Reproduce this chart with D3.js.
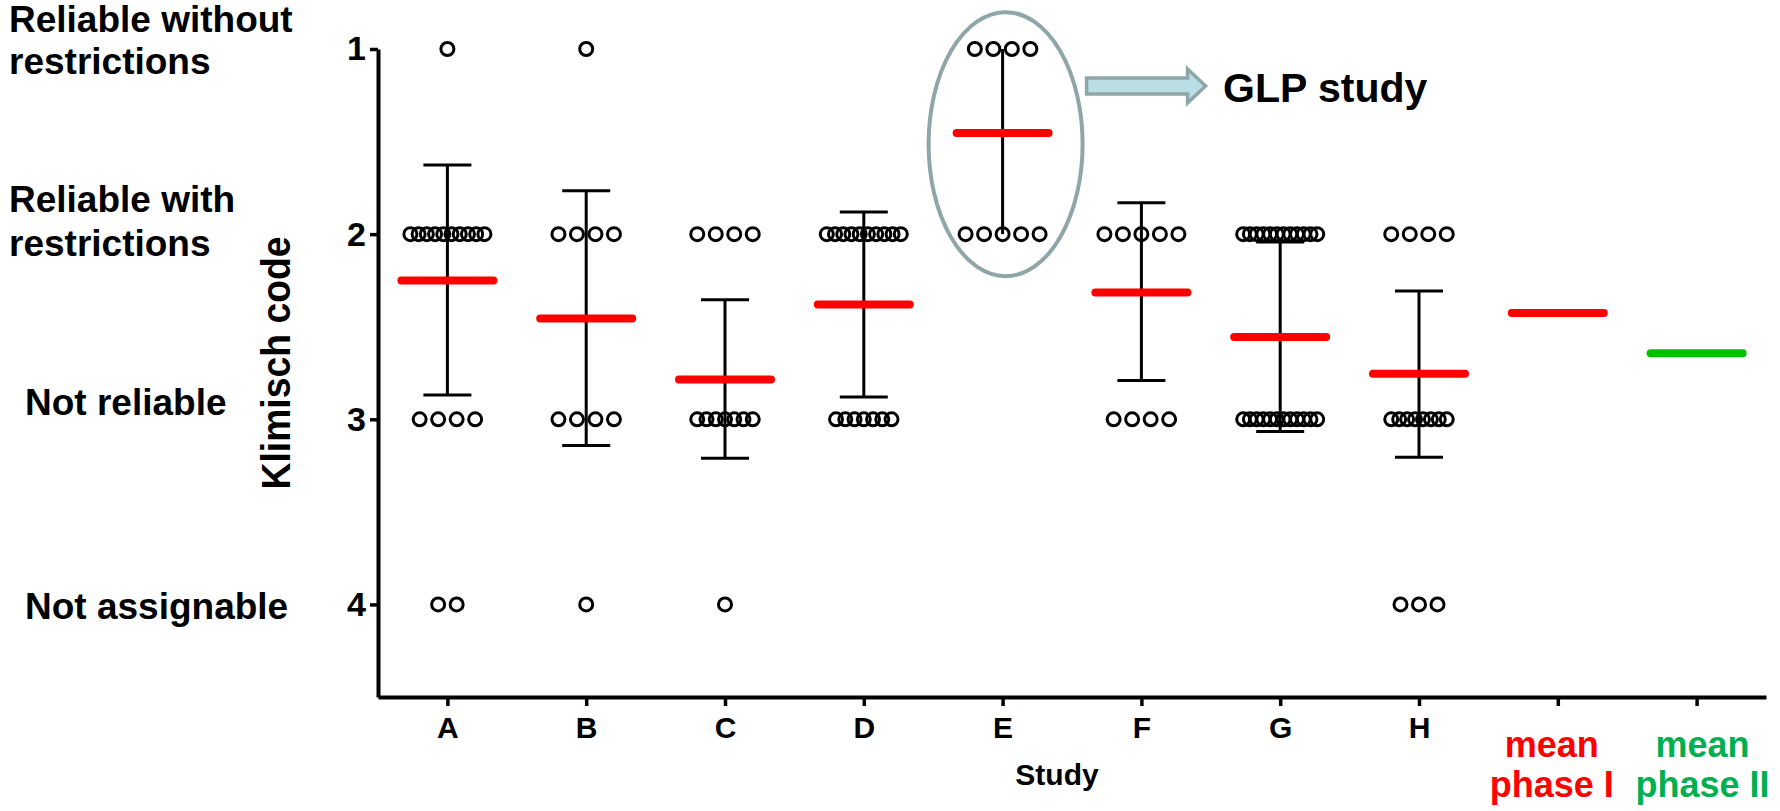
<!DOCTYPE html>
<html>
<head>
<meta charset="utf-8">
<script src="https://cdn.jsdelivr.net/npm/d3@7"></script>
<style>
  body { margin: 0; background: #fff; }
  text { font-family: "Liberation Sans", Arial, sans-serif; font-weight: bold; }
</style>
</head>
<body>
<div id="chart"></div>
<script>
// categories on the x axis
const studies = ["A", "B", "C", "D", "E", "F", "G", "H"];
const categories = [...studies, "mean phase I", "mean phase II"];

// number of evaluations per Klimisch code (1..4), one entry per study
const countsAt1 = [1, 1, 0, 0, 4, 0, 0, 0];
const countsAt2 = [10, 4, 4, 10, 5, 5, 12, 4];
const countsAt3 = [4, 4, 7, 7, 0, 4, 12, 8];
const countsAt4 = [2, 1, 1, 0, 0, 0, 0, 3];

// mean per category (last two = overall means)
const meanValues = [2.25, 2.455, 2.785, 2.38, 1.0 + 0.454, 2.315, 2.556, 2.754, 2.426, 2.643];
// error bar (SD) limits per study
const sdLow = [1.627, 1.766, 2.354, 1.88, 1.0, 1.83, 2.043, 2.307];
const sdHigh = [2.869, 3.142, 3.21, 2.88, 2.0, 2.79, 3.066, 3.205];

// y axis
const yTicks = [1, 2, 3, 4];
const levelLabels = [["Reliable without", "restrictions"], ["Reliable with", "restrictions"], ["Not reliable"], ["Not assignable"]];

const W = 1780, H = 811;
const svg = d3.select("#chart").append("svg")
  .attr("width", W)
  .attr("height", H);

const x = d3.scalePoint()
  .domain(categories)
  .range([378, 1766])
  .padding(0.5);

const y = d3.scaleLinear()
  .domain([1, 4.5])
  .range([49, 697]);

// axes
const xAxis = svg.append("g")
  .attr("transform", `translate(0,${y(4.5)})`)
  .call(d3.axisBottom(x).tickSize(9).tickSizeOuter(0).tickPadding(11)
    .tickFormat(d => studies.includes(d) ? d : ""));

const yAxis = svg.append("g")
  .attr("transform", `translate(${x.range()[0]},0)`)
  .call(d3.axisLeft(y).tickValues(yTicks).tickSize(8).tickSizeOuter(0).tickPadding(4)
    .tickFormat(d3.format("d")));

[xAxis, yAxis].forEach(g => {
  g.select(".domain").attr("stroke", "#000").attr("stroke-width", 4);
  g.selectAll(".tick line").attr("stroke", "#000").attr("stroke-width", 3.5);
  g.selectAll(".tick text").attr("fill", "#000").style("font-family", null);
});
xAxis.selectAll(".tick text").attr("font-size", 30);
yAxis.selectAll(".tick text").attr("font-size", 34);

// axis titles
svg.append("text")
  .attr("transform", `translate(290,363) rotate(-90)`)
  .attr("text-anchor", "middle")
  .attr("font-size", 40)
  .attr("textLength", 253)
  .attr("lengthAdjust", "spacingAndGlyphs")
  .text("Klimisch code");

svg.append("text")
  .attr("x", 1057)
  .attr("y", 785)
  .attr("text-anchor", "middle")
  .attr("font-size", 30)
  .text("Study");

// mean phase labels under the last two ticks
const phaseLabels = [["mean", "phase I"], ["mean", "phase II"]];
const phaseColors = ["#ff0000", "#00b050"];
phaseLabels.forEach((lines, i) => {
  const cat = categories[studies.length + i];
  svg.append("text")
    .attr("x", x(cat) - 6 + i * 12)
    .attr("y", 757)
    .attr("text-anchor", "middle")
    .attr("font-size", 36)
    .attr("fill", phaseColors[i])
    .selectAll("tspan")
    .data(lines)
    .join("tspan")
    .attr("x", x(cat) - 6 + i * 12)
    .attr("dy", (d, j) => j === 0 ? 0 : 40)
    .text(d => d);
});

// level descriptions on the left
const labelPos = [{ x: 9, y: [32, 74] }, { x: 9, y: [212, 256] }, { x: 25, y: [415] }, { x: 25, y: [619] }];
levelLabels.forEach((lines, i) => {
  lines.forEach((line, j) => {
    svg.append("text")
      .attr("x", labelPos[i].x)
      .attr("y", labelPos[i].y[j])
      .attr("font-size", 37)
      .text(line);
  });
});

// build the dot positions (rows of dots, squeezed when there are many)
const allCounts = [countsAt1, countsAt2, countsAt3, countsAt4];
const dots = [];
studies.forEach((s, si) => {
  allCounts.forEach((arr, li) => {
    const n = arr[si];
    if (!n) return;
    let spacing = 18.5;
    if (n > 5) {
      const slots = Math.min(5, Math.ceil(n / 2));
      spacing = (slots - 1) * 18.5 / (n - 1);
    }
    for (let k = 0; k < n; k++) {
      dots.push({ study: s, level: yTicks[li], dx: (k - (n - 1) / 2) * spacing });
    }
  });
});

// error bars
const capW = 48;
const onRow = v => Math.abs(v - Math.round(v)) < 0.01;
const eb = svg.append("g").attr("stroke", "#000").attr("stroke-width", 3);
studies.forEach((s, i) => {
  eb.append("line")
    .attr("x1", x(s)).attr("x2", x(s))
    .attr("y1", y(sdLow[i])).attr("y2", y(sdHigh[i]));
  [sdLow[i], sdHigh[i]].forEach(v => {
    if (onRow(v)) return; // cap hidden in the row of dots
    eb.append("line")
      .attr("x1", x(s) - capW / 2).attr("x2", x(s) + capW / 2)
      .attr("y1", y(v)).attr("y2", y(v));
  });
});

// dots
svg.append("g")
  .selectAll("circle")
  .data(dots)
  .join("circle")
  .attr("cx", d => x(d.study) + d.dx)
  .attr("cy", d => y(d.level))
  .attr("r", 6.5)
  .attr("fill", "none")
  .attr("stroke", "#000")
  .attr("stroke-width", 3);

// mean lines
svg.append("g")
  .selectAll("line")
  .data(categories)
  .join("line")
  .attr("x1", d => x(d) - 46)
  .attr("x2", d => x(d) + 46)
  .attr("y1", (d, i) => y(meanValues[i]))
  .attr("y2", (d, i) => y(meanValues[i]))
  .attr("stroke", (d, i) => i === categories.length - 1 ? "#00c000" : "#ff0000")
  .attr("stroke-width", 8)
  .attr("stroke-linecap", "round");

// GLP annotation: ellipse around study E and an arrow
const ex = x("E");
svg.append("ellipse")
  .attr("cx", ex + 3)
  .attr("cy", y(1.514))
  .attr("rx", 77)
  .attr("ry", 132)
  .attr("fill", "none")
  .attr("stroke", "#8fa6a8")
  .attr("stroke-width", 4);

const ax0 = ex + 84, ax1 = ex + 185, ay = 86;
svg.append("path")
  .attr("d", `M${ax0},${ay - 8}H${ax1}V${ay - 17}L${ax1 + 18},${ay}L${ax1},${ay + 17}V${ay + 8}H${ax0}Z`)
  .attr("fill", "#b9dfe4")
  .attr("stroke", "#8fa6a8")
  .attr("stroke-width", 3.5)
  .attr("stroke-linejoin", "miter");

svg.append("text")
  .attr("x", 1223)
  .attr("y", 102)
  .attr("font-size", 41)
  .text("GLP study");
</script>
</body>
</html>
